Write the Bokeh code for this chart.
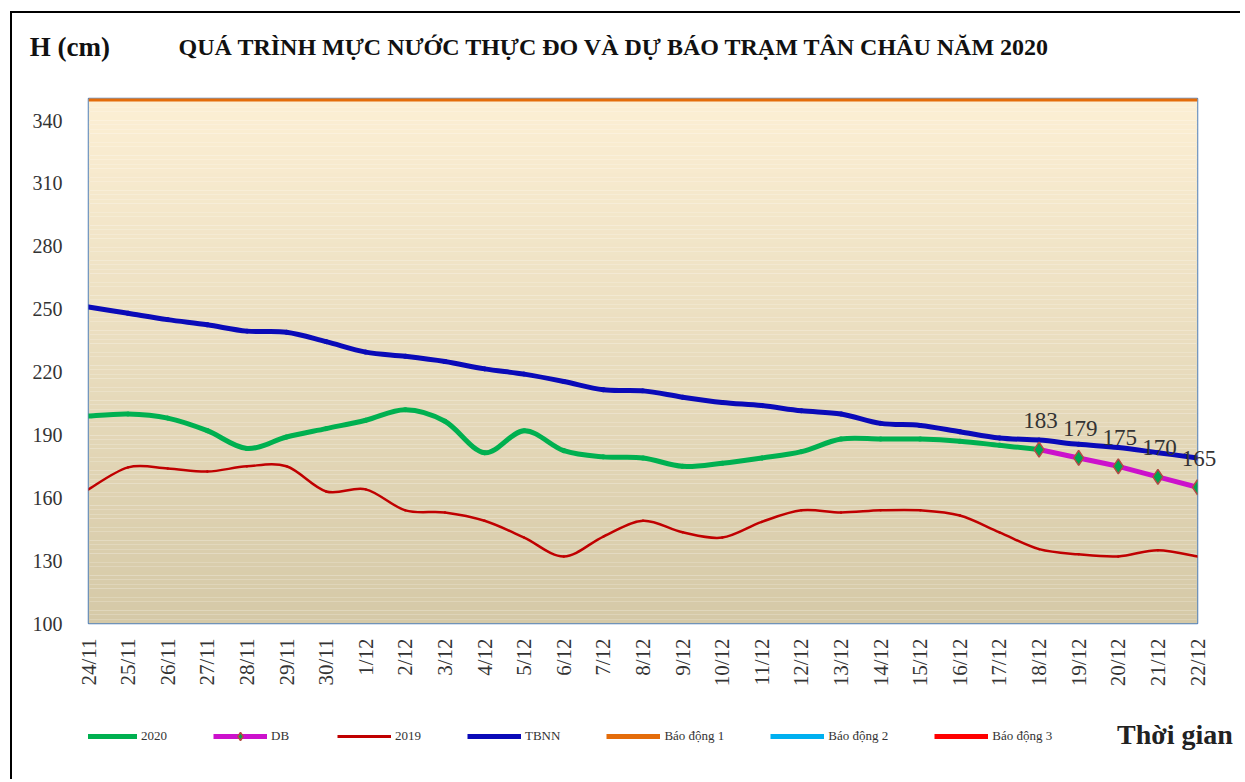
import numpy as np
from bokeh.plotting import figure
from bokeh.layouts import column
from bokeh.models import (ColumnDataSource, Range1d, FixedTicker, Legend,
                          LegendItem, Label, HTMLLabelSet)
from bokeh.embed import file_html
from bokeh.resources import INLINE

# ---------------- data ----------------
dates = ["24/11", "25/11", "26/11", "27/11", "28/11", "29/11", "30/11",
         "1/12", "2/12", "3/12", "4/12", "5/12", "6/12", "7/12", "8/12",
         "9/12", "10/12", "11/12", "12/12", "13/12", "14/12", "15/12",
         "16/12", "17/12", "18/12", "19/12", "20/12", "21/12", "22/12"]

# observed 2020 (24/11 .. 18/12)
h2020 = [199, 200, 198, 192, 183.5, 189, 193, 197, 202, 196.5, 181.5, 192,
         182.5, 179.5, 179, 175, 176.5, 179, 182, 188, 188, 188, 187, 185, 183]
# forecast (18/12 .. 22/12)
db_dates = ["18/12", "19/12", "20/12", "21/12", "22/12"]
db = [183, 179, 175, 170, 165]
h2019 = [164, 174.5, 174, 172.5, 175, 175, 163, 164, 154, 153, 149, 141,
         132, 141.5, 149, 143.5, 141, 148.5, 154, 153, 154, 154, 151.5,
         143.5, 135.5, 133, 132, 135, 132]
tbnn = [251, 248, 245, 242.5, 239.5, 239, 234.5, 229.5, 227.5, 225, 221.5,
        219, 215.5, 211.5, 211, 208, 205.5, 204, 201.5, 200, 195.5, 194.5,
        191.5, 188.5, 187.5, 185.5, 184, 181.5, 179]
bd1, bd2, bd3 = 350, 400, 450
y_ticks = [100, 130, 160, 190, 220, 250, 280, 310, 340]

SERIF = "Liberation Serif"
C2020, CDB, C2019, CTB = "#00B050", "#CC11CC", "#C00000", "#0A0AB8"
CB1, CB2, CB3 = "#E46C0A", "#00B0F0", "#FF0000"
W = 1228
BL, BR = 76, 43          # side borders shared by all rows (frames aligned)
FX0, FX1 = 88, 1197      # page x of the plot frame


def smooth_source(xs, ys):
    """Cubic Bezier segments through the data points (Excel-style smoothing)."""
    xs = list(xs)
    ys = list(ys)
    n = len(xs)
    d = dict(x0=[], y0=[], x1=[], y1=[], cx0=[], cy0=[], cx1=[], cy1=[])
    for i in range(n - 1):
        xm, ym = (xs[i - 1], ys[i - 1]) if i > 0 else (xs[i], ys[i])
        xp, yp = (xs[i + 2], ys[i + 2]) if i + 2 < n else (xs[i + 1], ys[i + 1])
        d["x0"].append(xs[i]); d["y0"].append(ys[i])
        d["x1"].append(xs[i + 1]); d["y1"].append(ys[i + 1])
        d["cx0"].append(xs[i] + (xs[i + 1] - xm) / 6.0)
        d["cy0"].append(ys[i] + (ys[i + 1] - ym) / 6.0)
        d["cx1"].append(xs[i + 1] - (xp - xs[i]) / 6.0)
        d["cy1"].append(ys[i + 1] - (yp - ys[i]) / 6.0)
    return ColumnDataSource(d)


def blank_fig(h):
    f = figure(width=W, height=h, x_range=Range1d(FX0, FX1),
               y_range=Range1d(0, h), x_axis_type=None, y_axis_type=None,
               output_backend="svg", toolbar_location=None,
               min_border_left=BL, min_border_right=BR,
               min_border_top=0, min_border_bottom=0)
    f.outline_line_color = None
    f.background_fill_color = "white"
    f.border_fill_color = "white"
    return f


xi = list(range(len(dates)))
x2020 = xi[:len(h2020)]
xdb = [dates.index(d) for d in db_dates]

# ---------------- header ----------------
HH = 83
ph = blank_fig(HH)
ph.add_layout(HTMLLabelSet(source=ColumnDataSource(dict(x=[110], y=[HH - 34],
                                                        t=["H (cm)"])),
                           x="x", y="y", text="t", text_align="right",
                           text_baseline="middle", text_font=SERIF,
                           text_font_size="27px", text_font_style="bold",
                           text_color="#111111"))
ph.add_layout(Label(x=178, y=HH - 33,
                    text="QUÁ TRÌNH MỰC NƯỚC THỰC ĐO VÀ DỰ BÁO TRẠM TÂN CHÂU NĂM 2020",
                    text_font=SERIF, text_font_size="24px",
                    text_font_style="bold", text_color="#111111",
                    text_baseline="middle"))

# ---------------- main chart ----------------
p = figure(width=W, height=597,
           x_range=Range1d(0, len(dates) - 1), y_range=Range1d(100, 350.5),
           output_backend="svg", toolbar_location=None,
           min_border_left=BL, min_border_right=BR,
           min_border_top=2, min_border_bottom=70)
p.background_fill_color = "white"
p.border_fill_color = "white"
p.outline_line_color = "#4F81BD"
p.outline_line_width = 1.5
p.xgrid.visible = False
p.ygrid.visible = False

# gradient background of the plot area
nb = 120
edges = np.linspace(100, 350.5, nb + 1)
top_c = np.array([252, 239, 212])
bot_c = np.array([213, 201, 167])
cols = []
for k in range(nb):
    t = (k + 0.5) / nb
    c = bot_c + (top_c - bot_c) * t
    cols.append("#%02x%02x%02x" % tuple(int(round(v)) for v in c))
p.quad(left=0, right=len(dates) - 1, bottom=edges[:-1], top=edges[1:],
       fill_color=cols, line_color=None)

bz = dict(x0="x0", y0="y0", x1="x1", y1="y1", cx0="cx0", cy0="cy0",
          cx1="cx1", cy1="cy1", line_cap="round")
p.bezier(source=smooth_source(xi, h2019), line_color=C2019, line_width=2.5, **bz)
p.bezier(source=smooth_source(xi, tbnn), line_color=CTB, line_width=5, **bz)
p.bezier(source=smooth_source(x2020, h2020), line_color=C2020, line_width=5, **bz)
p.line(xdb, db, line_color=CDB, line_width=5)
p.scatter(xdb, db, marker="diamond", size=15, fill_color="#00A550",
          line_color="#B54A45", line_width=1.5)
p.line([xi[0], xi[-1]], [bd1, bd1], line_color=CB1, line_width=4)
p.line([xi[0], xi[-1]], [bd2, bd2], line_color=CB2, line_width=4)
p.line([xi[0], xi[-1]], [bd3, bd3], line_color=CB3, line_width=4)

# forecast labels
lab_src = ColumnDataSource(dict(x=xdb, y=db, t=[str(v) for v in db]))
p.add_layout(HTMLLabelSet(x="x", y="y", text="t", source=lab_src,
                          text_align="center", text_baseline="bottom",
                          x_offset=2, y_offset=15, text_font=SERIF,
                          text_font_size="23px", text_color="#333333"))

# axes
p.yaxis.ticker = FixedTicker(ticks=y_ticks)
p.yaxis.axis_line_color = None
p.yaxis.major_tick_line_color = None
p.yaxis.minor_tick_line_color = None
p.yaxis.major_label_standoff = 20
p.yaxis.major_label_text_font = SERIF
p.yaxis.major_label_text_font_size = "20px"
p.yaxis.major_label_text_color = "#333333"

p.xaxis.ticker = FixedTicker(ticks=xi)
p.xaxis.major_label_overrides = {i: d for i, d in enumerate(dates)}
p.xaxis.major_label_orientation = np.pi / 2
p.xaxis.axis_line_color = None
p.xaxis.major_tick_line_color = None
p.xaxis.minor_tick_line_color = None
p.xaxis.major_label_standoff = 9
p.xaxis.major_label_text_font = SERIF
p.xaxis.major_label_text_font_size = "21px"
p.xaxis.major_label_text_color = "#333333"

# ---------------- legend row ----------------
# the legend's glyphs come from the same series, drawn out of this row's view
LH = 86
pl = blank_fig(LH)
g2020 = pl.line(x2020, h2020, line_color=C2020, line_width=5)
gdb = pl.line(xdb, db, line_color=CDB, line_width=5)
gdbm = pl.scatter(xdb, db, marker="diamond", size=11, fill_color="#00A550",
                  line_color="#B54A45", line_width=1.5)
g2019 = pl.line(xi, h2019, line_color=C2019, line_width=3)
gtb = pl.line(xi, tbnn, line_color=CTB, line_width=5)
gb1 = pl.line([xi[0], xi[-1]], [bd1, bd1], line_color=CB1, line_width=5)
gb2 = pl.line([xi[0], xi[-1]], [bd2, bd2], line_color=CB2, line_width=5)
gb3 = pl.line([xi[0], xi[-1]], [bd3, bd3], line_color=CB3, line_width=5)
legend = Legend(items=[
    LegendItem(label="2020", renderers=[g2020]),
    LegendItem(label="DB", renderers=[gdb, gdbm]),
    LegendItem(label="2019", renderers=[g2019]),
    LegendItem(label="TBNN", renderers=[gtb]),
    LegendItem(label="Báo động 1", renderers=[gb1]),
    LegendItem(label="Báo động 2", renderers=[gb2]),
    LegendItem(label="Báo động 3", renderers=[gb3]),
], orientation="horizontal", location=(-5, 33), padding=0, margin=0,
    spacing=46, glyph_width=54, glyph_height=20, label_standoff=4,
    label_text_font=SERIF, label_text_font_size="13px",
    label_text_color="#333333", border_line_color=None,
    background_fill_alpha=0)
pl.add_layout(legend, "center")
pl.add_layout(HTMLLabelSet(source=ColumnDataSource(dict(x=[1117], y=[LH - 42],
                                                        t=["Thời gian"])),
                           x="x", y="y", text="t", text_align="left",
                           text_baseline="middle", text_font=SERIF,
                           text_font_size="28px", text_font_style="bold",
                           text_color="#222222"))

layout = column(ph, p, pl, spacing=0)
layout.styles = {"margin-left": "10px", "margin-top": "11px",
                 "border-top": "2px solid black",
                 "border-left": "2px solid black"}

open("out.html", "w").write(file_html(layout, INLINE))
